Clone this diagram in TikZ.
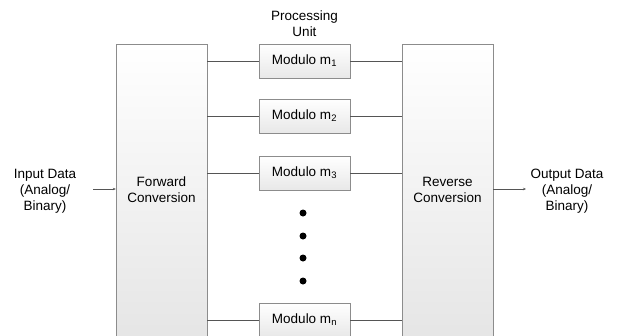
\documentclass[tikz,border=0pt]{standalone}
\usepackage{fontspec}
\setmainfont{Liberation Sans}
\usetikzlibrary{arrows.meta}
\definecolor{boxline}{HTML}{8C8C8C}
\definecolor{wireline}{HTML}{555555}
\tikzset{
  bigbox/.style={draw=boxline, top color=white, bottom color=black!10, minimum width=91pt, minimum height=292pt, inner sep=0pt, align=center},
  modbox/.style={draw=boxline, top color=white, bottom color=black!9, minimum width=91pt, minimum height=34pt, inner sep=0pt},
  wire/.style={draw=wireline, line width=0.7pt},
  dot/.style={circle, fill=black, inner sep=0pt, minimum size=7pt},
  lbl/.style={align=center, inner sep=0pt}
}
\begin{document}
\begin{tikzpicture}[x=1pt, y=-1pt, font=\fontsize{13.5}{16}\selectfont]
  \useasboundingbox (0,0) rectangle (619,335);
  \clip (0,0) rectangle (619,335);
  \node[bigbox] (fwd) at (161.5,190) {Forward\\Conversion}; % conversion directa
  \node[bigbox] (rev) at (447.5,190) {Reverse\\Conversion}; % conversion inversa
  \node[lbl] (pu) at (304.5,24) {Processing\\Unit}; % titulo
  \node[modbox] (m1) at (304.5,61) {Modulo m\textsubscript{1}}; % modulos
  \node[modbox] (m2) at (304.5,116) {Modulo m\textsubscript{2}};
  \node[modbox] (m3) at (304.5,173) {Modulo m\textsubscript{3}};
  \node[modbox] (mn) at (304.5,320) {Modulo m\textsubscript{n}};
  \foreach \y [count=\i] in {213,236,258,281} \node[dot] (d\i) at (303,\y) {}; % puntos
  \foreach \m in {m1,m2,m3,mn} {
    \draw[wire] (\m.west) -- (\m.west -| fwd.east); % lineas a la izquierda
    \draw[wire] (\m.east) -- (\m.east -| rev.west); % lineas a la derecha
  }
  \node[lbl] (in) at (45,191) {Input Data\\(Analog/\\Binary)}; % entrada
  \node[lbl] (out) at (567,191) {Output Data\\(Analog/\\Binary)}; % salida
  \coordinate (inp) at (93,189);
  \coordinate (outp) at (526,189);
  \draw[wire, line width=0.5pt, -{Stealth[length=3pt, width=2.5pt]}] (inp) -- (inp -| fwd.west);
  \draw[wire, line width=0.5pt, -{Stealth[length=3pt, width=2.5pt]}] (outp -| rev.east) -- (outp);
\end{tikzpicture}
\end{document}
